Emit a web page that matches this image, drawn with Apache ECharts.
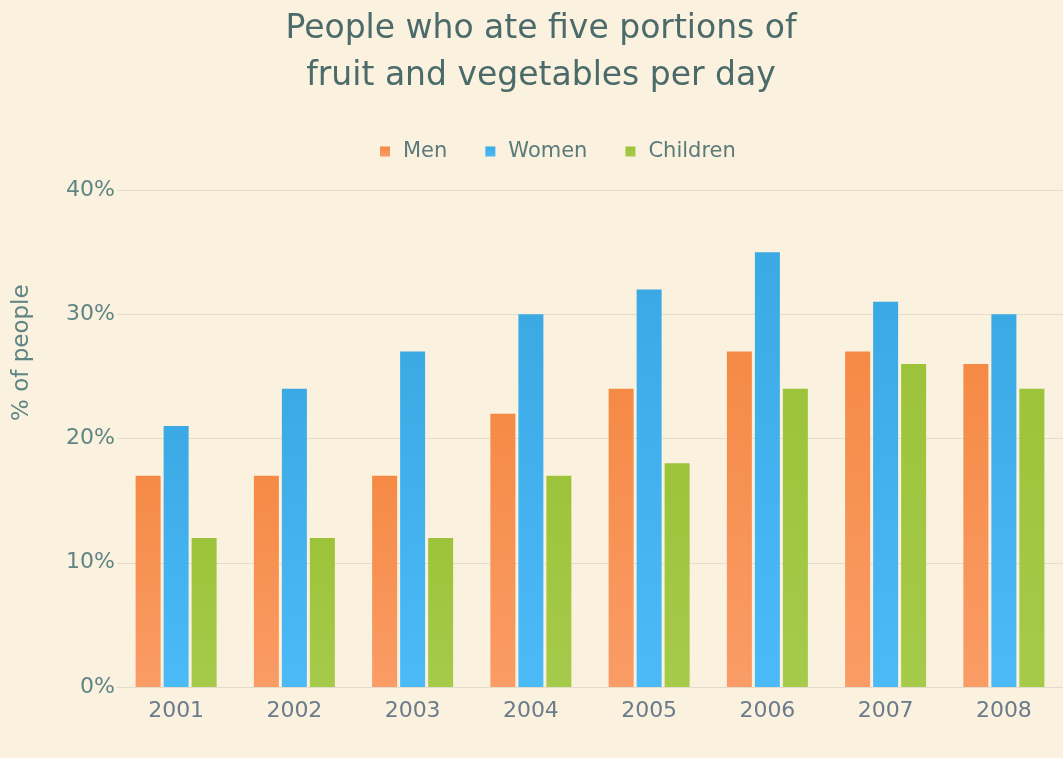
<!DOCTYPE html>
<html>
<head>
<meta charset="utf-8">
<script src="https://cdn.jsdelivr.net/npm/echarts@6/dist/echarts.min.js"></script>
<style>
  html, body { margin: 0; padding: 0; background: #fbf1df; }
</style>
</head>
<body>
<div id="chart" style="width: 1063px; height: 758px;"></div>
<script>
// data
var years = ['2001', '2002', '2003', '2004', '2005', '2006', '2007', '2008'];
var men = [17, 17, 17, 22, 24, 27, 27, 26];
var women = [21, 24, 27, 30, 32, 35, 31, 30];
var children = [12, 12, 12, 17, 18, 24, 26, 24];
var seriesNames = ['Men', 'Women', 'Children'];

var myChart = echarts.init(document.getElementById('chart'));

function barColor(top, bottom) {
  return new echarts.graphic.LinearGradient(0, 0, 0, 1, [
    { offset: 0, color: top },
    { offset: 1, color: bottom }
  ]);
}

var option = {
  backgroundColor: '#fbf1df',
  textStyle: { fontFamily: 'DejaVu Sans' },
  title: {
    text: 'People who ate five portions of\nfruit and vegetables per day',
    left: 541,
    textAlign: 'center',
    top: 6,
    padding: 0,
    textStyle: {
      fontSize: 33,
      fontWeight: 'normal',
      color: '#4b6b6a',
      lineHeight: 47
    }
  },
  legend: {
    data: seriesNames,
    top: 136,
    left: 375,
    padding: 5,
    itemWidth: 10,
    itemHeight: 10,
    itemGap: 38,
    icon: 'rect',
    textStyle: { fontSize: 21, color: '#5b7a7a', padding: [0, 0, 0, 8] }
  },
  grid: {
    left: 117,
    right: 0,
    top: 190,
    bottom: 71
  },
  xAxis: {
    type: 'category',
    data: years,
    axisTick: { show: false },
    axisLine: { lineStyle: { color: '#e3dccd' } },
    axisLabel: { fontSize: 22, color: '#6b7b8a', margin: 13 }
  },
  yAxis: {
    type: 'value',
    min: 0,
    max: 40,
    interval: 10,
    axisLabel: {
      formatter: '{value}%',
      fontSize: 22,
      color: '#5f8584',
      margin: 2
    },
    splitLine: { lineStyle: { color: '#e6dccb' } }
  },
  graphic: [{
    type: 'text',
    x: 11,
    y: 421,
    rotation: Math.PI / 2,
    style: {
      text: '% of people',
      fontSize: 23,
      fill: '#5f8584',
      fontFamily: 'DejaVu Sans'
    }
  }],
  series: [
    {
      name: 'Men', type: 'bar', data: men,
      barWidth: 25, barGap: '12%',
      itemStyle: { color: barColor('#f58a45', '#fa9c66') }
    },
    {
      name: 'Women', type: 'bar', data: women,
      barWidth: 25, barGap: '12%',
      itemStyle: { color: barColor('#3aa9e4', '#4cbaf7') }
    },
    {
      name: 'Children', type: 'bar', data: children,
      barWidth: 25, barGap: '12%',
      itemStyle: { color: barColor('#9dc33a', '#a6ca4a') }
    }
  ]
};

myChart.setOption(option);
</script>
</body>
</html>
